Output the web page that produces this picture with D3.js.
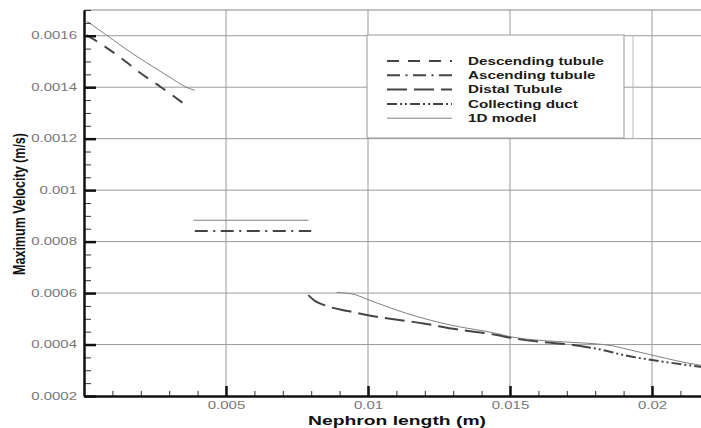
<!DOCTYPE html>
<html>
<head>
<meta charset="utf-8">
<script src="https://cdn.jsdelivr.net/npm/d3@7"></script>
<style>
  html, body { margin: 0; padding: 0; background: #fff; }
  svg { display: block; font-family: "Liberation Sans", Arial, sans-serif; }
</style>
</head>
<body>
<svg id="chart" width="701" height="428"></svg>
<script>
// Maximum velocity along the nephron: 3D segments vs the 1D model.
// Each series is a list of [nephron length (m), maximum velocity (m/s)].
const descending = [
  [0.0001, 0.001602], [0.0008, 0.001553], [0.0015, 0.001497],
  [0.0019, 0.001462], [0.0027, 0.001401], [0.0035, 0.001337]
];
const ascending = [
  [0.0039, 0.000841], [0.0080, 0.000841]
];
const distal = [
  [0.0079, 0.000592], [0.0081, 0.000572], [0.0086, 0.000548],
  [0.0093, 0.000530], [0.00995, 0.000515], [0.01195, 0.000482],
  [0.01312, 0.000459], [0.01453, 0.000437], [0.01502, 0.000426],
  [0.01723, 0.000398], [0.0175, 0.000394]
];
const collecting = [
  [0.0175, 0.000394], [0.01817, 0.000381], [0.0190, 0.000359],
  [0.0200, 0.000340], [0.0217, 0.000314], [0.0220, 0.000310]
];
const model1D_a = [
  [0.0001, 0.001656], [0.0008, 0.001602], [0.00162, 0.001537],
  [0.00244, 0.001479], [0.00315, 0.001430], [0.0036, 0.001400],
  [0.0039, 0.001388]
];
const model1D_b = [
  [0.00385, 0.000883], [0.0079, 0.000883]
];
const model1D_c = [
  [0.0089, 0.000603], [0.0096, 0.000592], [0.00995, 0.000577],
  [0.01136, 0.000521], [0.01289, 0.000476], [0.01453, 0.000443],
  [0.01502, 0.000430], [0.01723, 0.000408], [0.0180, 0.000403],
  [0.0186, 0.000395], [0.0190, 0.000385], [0.0200, 0.000359],
  [0.0217, 0.000320], [0.0220, 0.000316]
];

const legendNames = ["Descending tubule", "Ascending tubule", "Distal Tubule", "Collecting duct", "1D model"];
const xMajor = [0.005, 0.01, 0.015, 0.02];
const xMinor = d3.range(1, 23).map(i => i / 1000);
const yMajor = [0.0002, 0.0004, 0.0006, 0.0008, 0.001, 0.0012, 0.0014, 0.0016];
const yMinor = d3.range(4, 35).map(i => i * 0.00005);
const xTickLabels = ["0.005", "0.01", "0.015", "0.02"];
const yTickLabels = ["0.0002", "0.0004", "0.0006", "0.0008", "0.001", "0.0012", "0.0014", "0.0016"];

// line styles
const styles = {
  desc:  { stroke: "#444", width: 2, dash: "12,9" },
  asc:   { stroke: "#444", width: 2, dash: "13,5.5,2,5.5" },
  dist:  { stroke: "#444", width: 2, dash: "20,7" },
  coll:  { stroke: "#444", width: 2, dash: "10,3,2,3,2,3" },
  model: { stroke: "#808080", width: 1, dash: null }
};

const svg = d3.select("#chart");
const plotLeft = 84, plotTop = 10, plotBottom = 396;
const x = d3.scaleLinear().domain([0, 0.022]).range([plotLeft, plotLeft + 0.022 * 28400]);
const y = d3.scaleLinear().domain([0.0002, 0.0017]).range([plotBottom, plotTop]);
const plotRight = x(0.022);

svg.append("defs").append("clipPath").attr("id", "plot")
  .append("rect").attr("x", plotLeft).attr("y", plotTop)
  .attr("width", plotRight - plotLeft).attr("height", plotBottom - plotTop);

// grid
const grid = svg.append("g").attr("stroke", "#9a9a9a").attr("stroke-width", 1);
grid.selectAll(".gx").data(xMajor).join("line")
  .attr("x1", d => x(d)).attr("x2", d => x(d))
  .attr("y1", plotTop).attr("y2", plotBottom);
grid.selectAll(".gy").data(yMajor.slice(1)).join("line")
  .attr("x1", plotLeft).attr("x2", plotRight)
  .attr("y1", d => y(d)).attr("y2", d => y(d));
grid.append("line").attr("x1", plotLeft).attr("x2", plotRight)
  .attr("y1", y(0.0017)).attr("y2", y(0.0017)).attr("stroke", "#888");

// data curves
const line = d3.line().x(d => x(d[0])).y(d => y(d[1])).curve(d3.curveMonotoneX);
const plot = svg.append("g").attr("clip-path", "url(#plot)").attr("fill", "none");
function drawSeries(data, s) {
  plot.append("path").attr("d", line(data))
    .attr("stroke", s.stroke).attr("stroke-width", s.width)
    .attr("stroke-dasharray", s.dash);
}
drawSeries(model1D_a, styles.model);
drawSeries(model1D_b, styles.model);
drawSeries(model1D_c, styles.model);
drawSeries(descending, styles.desc);
drawSeries(ascending, styles.asc);
drawSeries(distal, styles.dist);
drawSeries(collecting, styles.coll);

// legend
const lg = svg.append("g");
lg.append("rect").attr("x", 367).attr("y", 35).attr("width", 257).attr("height", 103)
  .attr("fill", "#fff").attr("stroke", "#999").attr("stroke-width", 1);
lg.append("line").attr("x1", 633).attr("x2", 633).attr("y1", 35).attr("y2", 138)
  .attr("stroke", "#bbb").attr("stroke-width", 1);
const legendStyles = [styles.desc, styles.asc, styles.dist, styles.coll, styles.model];
legendNames.forEach((name, i) => {
  const cy = 61 + i * 14.3;
  const s = legendStyles[i];
  lg.append("line").attr("x1", 387).attr("x2", 452).attr("y1", cy).attr("y2", cy)
    .attr("stroke", s.stroke).attr("stroke-width", s.width)
    .attr("stroke-dasharray", s.dash);
  lg.append("text").attr("transform", `translate(468,${cy}) scale(1.45,1)`)
    .attr("dy", "0.35em").attr("font-size", 10.5).attr("font-weight", "bold")
    .attr("fill", "#1a1a1a").text(name);
});

// widen tick labels around their anchor point
function styleLabels(g) {
  g.selectAll("text").each(function () {
    const t = d3.select(this);
    const tx = +t.attr("x") || 0, ty = +t.attr("y") || 0;
    t.attr("x", 0).attr("y", 0)
      .attr("transform", `translate(${tx},${ty}) scale(1.5,1)`);
  });
  g.selectAll("text").attr("fill", "#777").attr("font-size", 10)
    .attr("font-family", "Liberation Sans, Arial, sans-serif");
}

// y axis: minor then major
svg.append("g").attr("transform", `translate(${plotLeft},0)`)
  .call(d3.axisLeft(y).tickValues(yMinor).tickSizeInner(-7).tickSizeOuter(0).tickFormat(""))
  .call(g => g.select(".domain").remove())
  .call(g => g.selectAll("line").attr("stroke", "#333").attr("stroke-width", 1));
const yAxis = svg.append("g").attr("transform", `translate(${plotLeft},0)`)
  .call(d3.axisLeft(y).tickValues(yMajor).tickSizeInner(-12).tickSizeOuter(0)
    .tickPadding(7).tickFormat((d, i) => yTickLabels[i]))
  .call(g => g.select(".domain").attr("stroke", "#111").attr("stroke-width", 2.5))
  .call(g => g.selectAll(".tick line").attr("stroke", "#111").attr("stroke-width", 2.5));
styleLabels(yAxis);

// x axis: minor then major
svg.append("g").attr("transform", `translate(0,${plotBottom})`)
  .call(d3.axisBottom(x).tickValues(xMinor).tickSizeInner(-5).tickSizeOuter(0).tickFormat(""))
  .call(g => g.select(".domain").remove())
  .call(g => g.selectAll("line").attr("stroke", "#333").attr("stroke-width", 1));
const xAxis = svg.append("g").attr("transform", `translate(0,${plotBottom})`)
  .call(d3.axisBottom(x).tickValues(xMajor).tickSizeInner(-10).tickSizeOuter(0)
    .tickPadding(6).tickFormat((d, i) => xTickLabels[i]))
  .call(g => g.select(".domain").attr("stroke", "#111").attr("stroke-width", 2.5))
  .call(g => g.selectAll(".tick line").attr("stroke", "#111").attr("stroke-width", 2.5));
styleLabels(xAxis);

// axis titles
svg.append("text").attr("x", 397).attr("y", 425).attr("text-anchor", "middle")
  .attr("font-size", 12.5).attr("font-weight", "bold").attr("fill", "#111")
  .attr("textLength", 178).attr("lengthAdjust", "spacingAndGlyphs")
  .text("Nephron length (m)");
svg.append("text").attr("transform", "translate(25,204) rotate(-90) scale(1,1.3)")
  .attr("text-anchor", "middle")
  .attr("font-size", 12).attr("font-weight", "bold").attr("fill", "#111")
  .attr("textLength", 142).attr("lengthAdjust", "spacingAndGlyphs")
  .text("Maximum Velocity (m/s)");
</script>
</body>
</html>
